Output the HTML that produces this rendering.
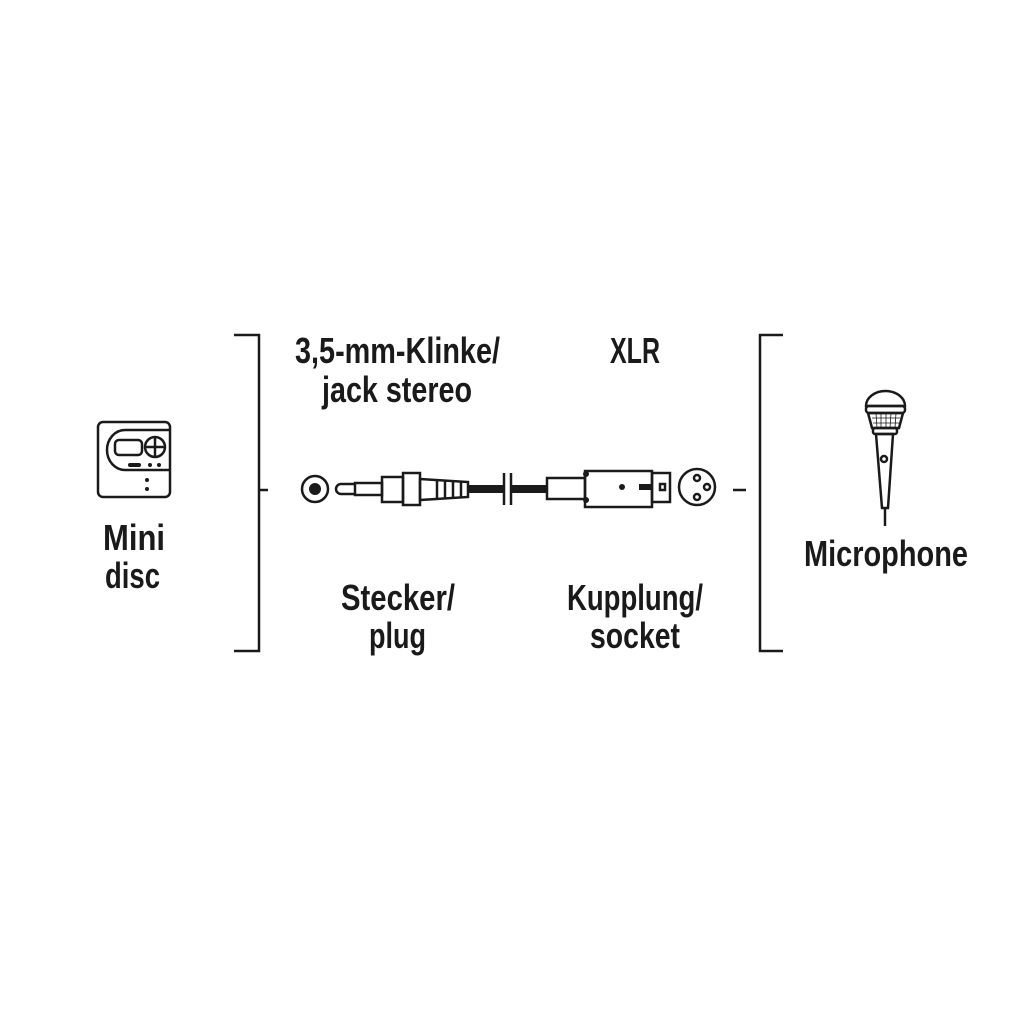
<!DOCTYPE html>
<html><head><meta charset="utf-8"><style>
html,body{margin:0;padding:0;background:#fff;}
svg{display:block;}
text{font-family:"Liberation Sans Narrow","Liberation Sans",sans-serif;font-weight:bold;fill:#1a1a1a;font-size:36px;}
</style></head><body>
<svg width="1024" height="1024" viewBox="0 0 1024 1024" xmlns="http://www.w3.org/2000/svg">
<g fill="none" stroke="#1a1a1a" stroke-width="2.5">
<!-- brackets -->
<polyline points="234,335 259,335 259,651 234,651"/>
<polyline points="783,335 760,335 760,651 783,651"/>
<line x1="258" y1="490" x2="268" y2="490"/>
<line x1="733" y1="490" x2="746" y2="490"/>
<!-- jack socket -->
<circle cx="315" cy="489" r="13"/>
<!-- plug -->
<path d="M355,484 L341,484 A5,5 0 0 0 341,494 L355,494"/>
<rect x="355" y="483" width="27" height="12"/>
<rect x="382" y="477" width="21" height="25"/>
<rect x="403" y="473" width="17" height="32"/>
<path d="M420,479 L468,482 L468,497 L420,500 Z"/>
<line x1="437" y1="480" x2="437" y2="499"/>
<line x1="445" y1="480" x2="445" y2="498"/>
<line x1="453" y1="481" x2="453" y2="498"/>
<line x1="461" y1="481" x2="461" y2="497"/>
<line x1="504" y1="473" x2="504" y2="505"/>
<line x1="511" y1="473" x2="511" y2="505"/>
<!-- XLR -->
<rect x="547" y="478" width="38" height="21"/>
<path d="M585,471 L652,471 L652,507 L585,507 Z"/>
<rect x="652" y="473" width="18" height="29"/>
<rect x="660" y="484" width="5" height="6"/>
<circle cx="697" cy="487" r="18"/>
<circle cx="697" cy="478" r="3"/>
<circle cx="697" cy="497" r="3"/>
<circle cx="707" cy="487" r="3"/>
<!-- minidisc -->
<rect x="98" y="422" width="72" height="75" rx="5"/>
<path d="M170,430 L125,430 A18,20 0 0 0 125,470 L170,470"/>
<rect x="115" y="440" width="27" height="15" rx="4"/>
<circle cx="155" cy="447" r="10"/>
<line x1="145" y1="447" x2="165" y2="447"/>
<line x1="155" y1="437" x2="155" y2="457"/>
<!-- mic -->
<path d="M866,406 A19.5,15 0 0 1 905,406 Z"/>
<rect x="866" y="406" width="39" height="7" rx="3"/>
<path d="M868,413 L903,413 L899,428 L872,428 Z"/>
<rect x="873" y="428" width="24" height="6" rx="2"/>
<path d="M876,434 L893,434 L888,508 L882,508 Z"/>
<circle cx="884" cy="459" r="3"/>
<line x1="885" y1="508" x2="885" y2="526"/>
</g>
<g fill="#1a1a1a">
<circle cx="315" cy="489" r="6"/>
<rect x="468" y="485" width="36" height="8"/>
<rect x="511" y="485" width="36" height="8"/>
<circle cx="586" cy="474" r="3"/>
<circle cx="586" cy="500" r="3"/>
<circle cx="622" cy="487" r="3"/>
<rect x="639" y="484" width="12" height="6"/>
<rect x="128" y="463" width="13" height="4" rx="2"/>
<circle cx="150" cy="465" r="2"/>
<circle cx="159" cy="465" r="2"/>
<circle cx="147" cy="480" r="2"/>
<circle cx="147" cy="489" r="2"/>
</g>
<g stroke="#1a1a1a" stroke-width="0.8">
<line x1="872" y1="418" x2="900" y2="418"/><line x1="873" y1="423" x2="899" y2="423"/>
<line x1="876" y1="413" x2="877" y2="428"/><line x1="881" y1="413" x2="881" y2="428"/>
<line x1="886" y1="413" x2="886" y2="428"/><line x1="891" y1="413" x2="890" y2="428"/>
<line x1="896" y1="413" x2="895" y2="428"/>
</g>
<text x="295" y="363" textLength="205" lengthAdjust="spacingAndGlyphs">3,5-mm-Klinke/</text>
<text x="322" y="402" textLength="150" lengthAdjust="spacingAndGlyphs">jack stereo</text>
<text x="610" y="363" textLength="50" lengthAdjust="spacingAndGlyphs">XLR</text>
<text x="103" y="550" textLength="62" lengthAdjust="spacingAndGlyphs">Mini</text>
<text x="105" y="588" textLength="55" lengthAdjust="spacingAndGlyphs">disc</text>
<text x="804" y="566" textLength="164" lengthAdjust="spacingAndGlyphs">Microphone</text>
<text x="341" y="610" textLength="114" lengthAdjust="spacingAndGlyphs">Stecker/</text>
<text x="369" y="648" textLength="57" lengthAdjust="spacingAndGlyphs">plug</text>
<text x="567" y="610" textLength="136" lengthAdjust="spacingAndGlyphs">Kupplung/</text>
<text x="590" y="648" textLength="90" lengthAdjust="spacingAndGlyphs">socket</text>
</svg>
</body></html>
